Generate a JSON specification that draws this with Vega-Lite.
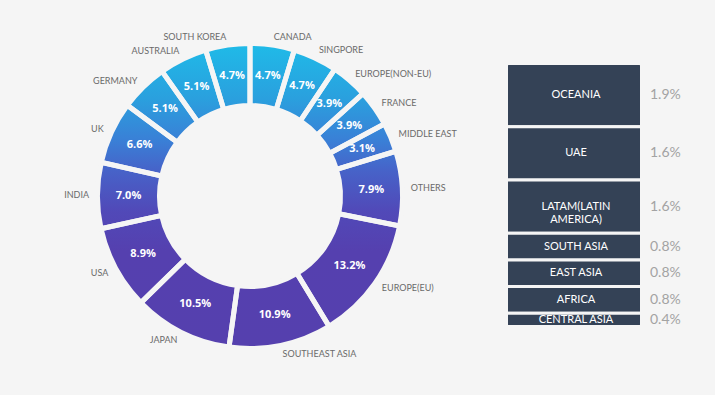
{
  "$schema": "https://vega.github.io/schema/vega-lite/v6.json",
  "background": "#f5f5f5",
  "padding": {"left": 0, "top": 0, "right": 0.5, "bottom": 3},
  "spacing": 4.5,
  "config": {"view": {"stroke": null}},
  "datasets": {
    "markets": [
      {"name": "CANADA", "share": 0.047, "ord": 1},
      {"name": "SINGPORE", "share": 0.047, "ord": 2},
      {"name": "EUROPE(NON-EU)", "share": 0.039, "ord": 3},
      {"name": "FRANCE", "share": 0.039, "ord": 4},
      {"name": "MIDDLE EAST", "share": 0.031, "ord": 5},
      {"name": "OTHERS", "share": 0.079, "ord": 6},
      {"name": "EUROPE(EU)", "share": 0.132, "ord": 7},
      {"name": "SOUTHEAST ASIA", "share": 0.109, "ord": 8},
      {"name": "JAPAN", "share": 0.105, "ord": 9},
      {"name": "USA", "share": 0.089, "ord": 10},
      {"name": "INDIA", "share": 0.070, "ord": 11},
      {"name": "UK", "share": 0.066, "ord": 12},
      {"name": "GERMANY", "share": 0.051, "ord": 13},
      {"name": "AUSTRALIA", "share": 0.051, "ord": 14},
      {"name": "SOUTH KOREA", "share": 0.047, "ord": 15}
    ],
    "others": [
      {"name": "OCEANIA", "share": 0.019, "ord": 7},
      {"name": "UAE", "share": 0.016, "ord": 6},
      {"name": "LATAM(LATIN\nAMERICA)", "share": 0.016, "ord": 5},
      {"name": "SOUTH ASIA", "share": 0.008, "ord": 4},
      {"name": "EAST ASIA", "share": 0.008, "ord": 3},
      {"name": "AFRICA", "share": 0.008, "ord": 2},
      {"name": "CENTRAL ASIA", "share": 0.004, "ord": 1}
    ]
  },
  "hconcat": [
    {
      "width": 500,
      "height": 392,
      "data": {"name": "markets"},
      "layer": [
        {
          "transform": [{"aggregate": [{"op": "sum", "field": "share", "as": "total"}]}],
          "mark": {
            "type": "arc",
            "outerRadius": 152.5,
            "innerRadius": 90.5,
            "fill": {
              "gradient": "linear",
              "x1": 0, "y1": 0, "x2": 0, "y2": 1,
              "stops": [
                {"offset": 0, "color": "#1fbbe8"},
                {"offset": 0.18, "color": "#2aa0de"},
                {"offset": 0.32, "color": "#3a7fd6"},
                {"offset": 0.42, "color": "#4762c8"},
                {"offset": 0.55, "color": "#5149b8"},
                {"offset": 0.68, "color": "#5540af"},
                {"offset": 1, "color": "#5540ae"}
              ]
            }
          },
          "encoding": {
            "theta": {"field": "total", "type": "quantitative"}
          }
        },
        {
          "mark": {
            "type": "arc",
            "outerRadius": 152.5,
            "innerRadius": 90.5,
            "fillOpacity": 0,
            "stroke": "#f5f5f5",
            "strokeWidth": 5
          },
          "encoding": {
            "theta": {"field": "share", "type": "quantitative", "stack": true},
            "order": {"field": "ord", "type": "quantitative"}
          }
        },
        {
          "mark": {
            "type": "text",
            "radius": 121.5,
            "color": "#ffffff",
            "font": "Open Sans",
            "fontWeight": "bold",
            "fontSize": 11,
            "align": "center",
            "baseline": "middle"
          },
          "encoding": {
            "theta": {"field": "share", "type": "quantitative", "stack": true},
            "order": {"field": "ord", "type": "quantitative"},
            "text": {"field": "share", "type": "quantitative", "format": ".1%"}
          }
        },
        {
          "mark": {
            "type": "text",
            "radius": 161,
            "color": "#6a6a6a",
            "font": "Lato",
            "fontSize": 9,
            "baseline": "middle",
            "align": {"expr": "datum.share_start + datum.share_end < 1.002 ? 'left' : 'right'"}
          },
          "encoding": {
            "theta": {"field": "share", "type": "quantitative", "stack": true},
            "order": {"field": "ord", "type": "quantitative"},
            "text": {"field": "name", "type": "nominal"}
          }
        }
      ]
    },
    {
      "width": 210,
      "height": 392,
      "data": {"name": "others"},
      "layer": [
        {
          "mark": {
            "type": "bar",
            "fill": "#344256",
            "stroke": "#f5f5f5",
            "strokeWidth": 3,
            "cornerRadius": 2
          },
          "encoding": {
            "x": {"datum": "OTHERS", "type": "nominal", "axis": null,
                  "scale": {"type": "band", "domain": ["OTHERS"], "paddingInner": 0, "paddingOuter": 0.27778, "align": 0}},
            "y": {"field": "share", "type": "quantitative", "stack": "zero", "axis": null,
                  "scale": {"domain": [-0.01967, 0.09808], "nice": false, "zero": false}},
            "order": {"field": "ord", "type": "quantitative"}
          }
        },
        {
          "mark": {
            "type": "text",
            "color": "#ffffff",
            "font": "Lato",
            "fontSize": 11,
            "align": "center",
            "baseline": "middle",
            "lineBreak": "\n",
            "dx": 2
          },
          "encoding": {
            "x": {"datum": "OTHERS", "type": "nominal", "axis": null},
            "y": {"field": "share", "type": "quantitative", "stack": "zero", "axis": null, "bandPosition": 0.5},
            "order": {"field": "ord", "type": "quantitative"},
            "text": {"field": "name", "type": "nominal"}
          }
        },
        {
          "mark": {
            "type": "text",
            "color": "#a3a3a3",
            "font": "Lato",
            "fontSize": 14,
            "align": "left",
            "baseline": "middle",
            "dx": 76
          },
          "encoding": {
            "x": {"datum": "OTHERS", "type": "nominal", "axis": null},
            "y": {"field": "share", "type": "quantitative", "stack": "zero", "axis": null, "bandPosition": 0.5},
            "order": {"field": "ord", "type": "quantitative"},
            "text": {"field": "share", "type": "quantitative", "format": ".1%"}
          }
        }
      ]
    }
  ]
}
